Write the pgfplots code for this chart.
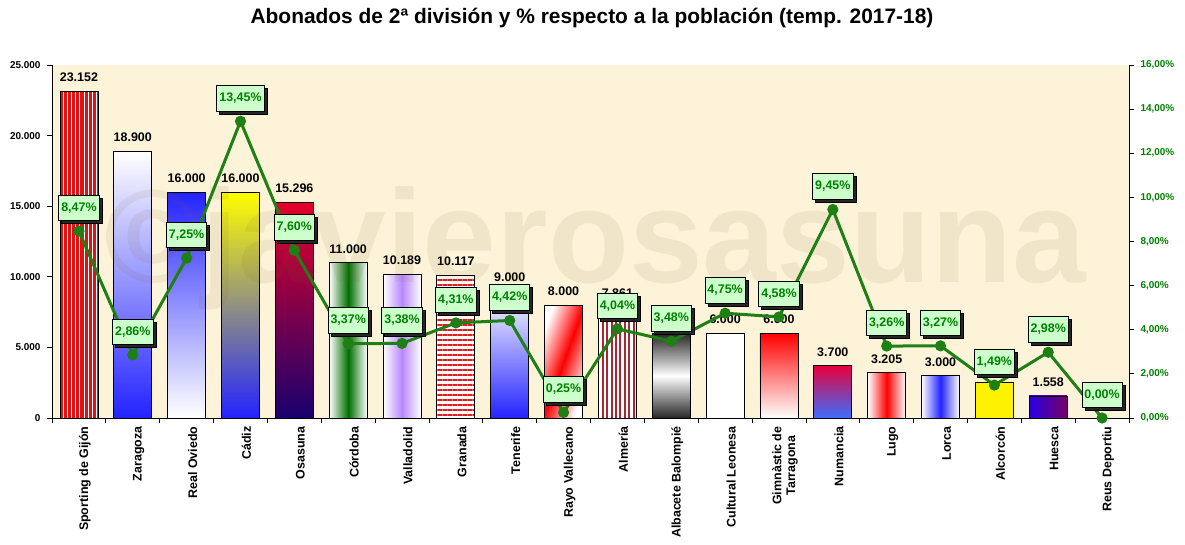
\documentclass[border=0pt]{standalone}
\usepackage{fontspec}
\setmainfont{Liberation Sans}
\usepackage{pgfplots}
\pgfplotsset{compat=1.18}
\usetikzlibrary{patterns.meta,shadows}
\definecolor{cream}{RGB}{252,243,216}
\definecolor{linegreen}{RGB}{30,128,20}
\definecolor{labgreen}{RGB}{0,128,0}
\definecolor{boxgreen}{RGB}{204,255,204}
\definecolor{spred}{RGB}{222,20,20}
\definecolor{bblue}{RGB}{35,35,255}
\definecolor{osred}{RGB}{230,0,40}
\definecolor{osnavy}{RGB}{25,0,110}
\definecolor{cogreen}{RGB}{0,110,0}
\definecolor{vapurple}{RGB}{185,135,255}
\definecolor{grred}{RGB}{220,30,30}
\definecolor{alred}{RGB}{165,40,50}
\definecolor{nured}{RGB}{232,0,60}
\definecolor{nublue}{RGB}{60,110,255}
\definecolor{hublue}{RGB}{40,0,230}
\definecolor{hupurple}{RGB}{120,0,100}
\definecolor{wmark}{RGB}{120,95,40}
\pgfplotsset{
  mybar/.style={ybar, bar width=38bp, bar shift=0pt, draw=black, line width=0.8bp,
    nodes near coords,
    every node near coord/.append style={font=\fontsize{12.5}{14}\selectfont\bfseries,
      text=black, anchor=south, inner sep=0pt, yshift=9bp}},
}
\begin{document}
\begin{tikzpicture}[x=1bp,y=1bp]
\useasboundingbox (0,0) rectangle (1185,545);
\node[font=\fontsize{21}{24}\selectfont\bfseries, anchor=base] at (592,521)
  {Abonados de 2ª división y \% respecto a la población (temp. 2017-18)};
\begin{axis}[
  at={(52bp,127bp)}, anchor=south west,
  scale only axis, width=1077bp, height=353bp,
  xmin=-0.5, xmax=19.5, ymin=0, ymax=25000,
  axis x line*=bottom, axis y line*=left,
  axis line style={-, black, line width=0.8bp},
  axis background/.style={fill=cream},
  tick align=outside,
  major tick length=5bp, minor tick length=5bp,
  every tick/.style={black, line width=0.8bp},
  xtick={0,...,19},
  major x tick style={draw=none},
  minor xtick={-0.5,0.5,...,19.5},
  xticklabels={Sporting de Gijón, Zaragoza, Real Oviedo, Cádiz, Osasuna, Córdoba, Valladolid, Granada, Tenerife, Rayo Vallecano, Almería, Albacete Balompié, Cultural Leonesa, {Gimnàstic de\\Tarragona}, Numancia, Lugo, Lorca, Alcorcón, Huesca, Reus Deportiu},
  xticklabel style={rotate=90, anchor=east, align=center,
    font=\fontsize{12.5}{14}\selectfont\bfseries, yshift=-6bp},
  ytick={0,5000,...,25000},
  scaled y ticks=false,
  yticklabel style={font=\fontsize{10}{12}\selectfont\bfseries, xshift=-3bp},
  /pgf/number format/1000 sep={.},
  /pgf/number format/assume math mode=true,
  clip=false,
]
\addplot[mybar, fill=spred, postaction={pattern={Lines[angle=90,distance=4.2bp,line width=0.9bp]}, pattern color=white}] coordinates {(0,23152)};
\addplot[mybar, top color=white, bottom color=bblue] coordinates {(1,18900)};
\addplot[mybar, top color=bblue, bottom color=white] coordinates {(2,16000)};
\addplot[mybar, top color=yellow, bottom color=bblue] coordinates {(3,16000)};
\addplot[mybar, top color=osred, bottom color=osnavy] coordinates {(4,15296)};
\addplot[mybar, left color=white, right color=white, middle color=cogreen] coordinates {(5,11000)};
\addplot[mybar, left color=white, right color=white, middle color=vapurple] coordinates {(6,10189)};
\addplot[mybar, fill=white, postaction={pattern={Lines[angle=0,distance=5bp,line width=2.4bp]}, pattern color=grred}] coordinates {(7,10117)};
\addplot[mybar, top color=white, bottom color=bblue] coordinates {(8,9000)};
\addplot[mybar, left color=white, right color=white, middle color=red, shading angle=70] coordinates {(9,8000)};
\addplot[mybar, fill=white, postaction={pattern={Lines[angle=90,distance=4.4bp,line width=2bp]}, pattern color=alred}] coordinates {(10,7861)};
\addplot[mybar, top color=black!85, bottom color=black!85, middle color=white] coordinates {(11,6000)};
\addplot[mybar, fill=white] coordinates {(12,6000)};
\addplot[mybar, top color=red, bottom color=white] coordinates {(13,6000)};
\addplot[mybar, top color=nured, bottom color=nublue] coordinates {(14,3700)};
\addplot[mybar, left color=white, right color=white, middle color=red] coordinates {(15,3205)};
\addplot[mybar, left color=white, right color=white, middle color=bblue] coordinates {(16,3000)};
\addplot[mybar, fill=yellow] coordinates {(17,2500)};
\addplot[mybar, left color=hublue, right color=hupurple] coordinates {(18,1558)};
\addplot[ybar, bar width=38bp, bar shift=0pt, draw=none] coordinates {(19,0)};
\end{axis}
\node[font=\fontsize{133}{140}\selectfont\bfseries, text=wmark, opacity=0.09, anchor=base] at (595,262) {©javierosasuna};
\begin{axis}[
  at={(52bp,127bp)}, anchor=south west,
  scale only axis, width=1077bp, height=353bp,
  xmin=-0.5, xmax=19.5, ymin=0, ymax=16,
  axis x line=none, axis y line*=right,
  axis line style={-, black, line width=0.8bp},
  tick align=outside, major tick length=5bp,
  every tick/.style={black, line width=0.8bp},
  ytick={0,2,...,16},
  yticklabel={\pgfmathprintnumber[fixed,fixed zerofill,precision=2,use comma]{\tick}\%},
  yticklabel style={font=\fontsize{10}{12}\selectfont\bfseries, text=labgreen, xshift=3bp},
  /pgf/number format/assume math mode=true,
  clip=false,
]
\addplot[line width=3bp, color=linegreen, mark=*, mark size=4bp,
  mark options={fill=linegreen, draw=linegreen},
  nodes near coords={\pgfmathprintnumber[fixed,fixed zerofill,precision=2,use comma]{\pgfplotspointmeta}\%},
  every node near coord/.style={anchor=center, yshift=23bp, fill=boxgreen, draw=black,
    line width=0.8bp, text=labgreen, font=\fontsize{12.5}{14}\selectfont\bfseries,
    inner xsep=2.5bp, inner ysep=7bp, text height=9bp, text depth=2.5bp,
    general shadow={fill=black!85, shadow xshift=3bp, shadow yshift=-3bp}},
] coordinates {
(0,8.47) (1,2.86) (2,7.25) (3,13.45) (4,7.60) (5,3.37) (6,3.38) (7,4.31) (8,4.42) (9,0.25)
(10,4.04) (11,3.48) (12,4.75) (13,4.58) (14,9.45) (15,3.26) (16,3.27) (17,1.49) (18,2.98) (19,0.00)
};
\end{axis}
\end{tikzpicture}
\end{document}
